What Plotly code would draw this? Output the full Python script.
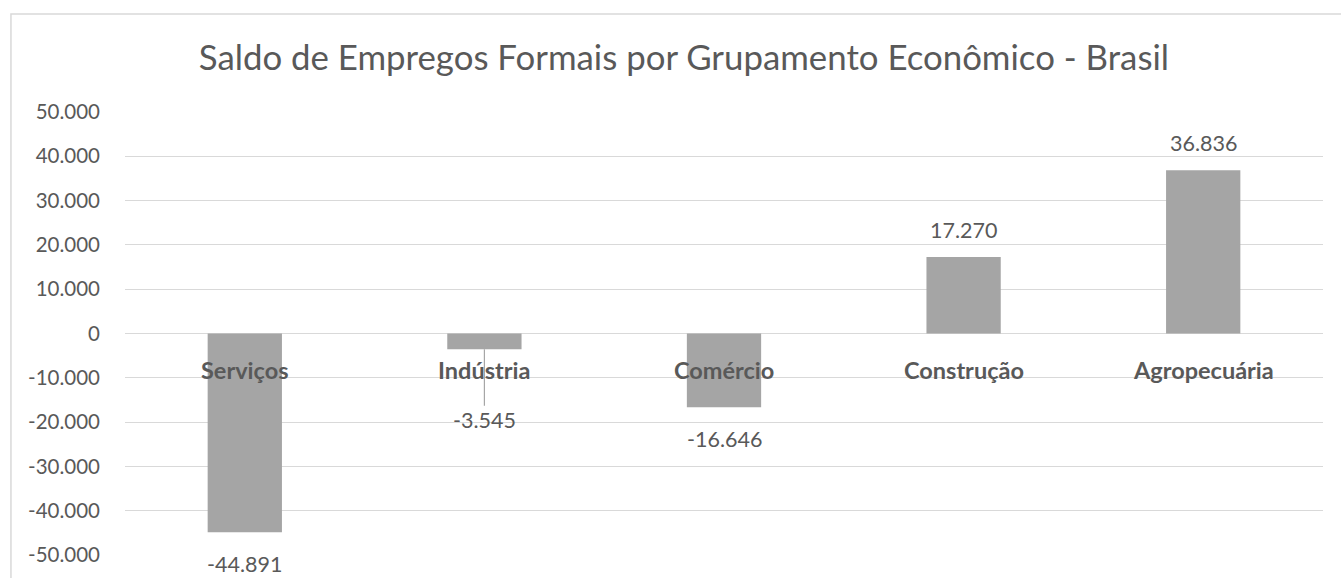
import plotly.graph_objects as go

categories = ["Serviços", "Indústria", "Comércio", "Construção", "Agropecuária"]
values = [-44891, -3545, -16646, 17270, 36836]
y_ticks = [50000, 40000, 30000, 20000, 10000, 0, -10000, -20000, -30000, -40000, -50000]

TITLE = "Saldo de Empregos Formais por Grupamento Econômico - Brasil"
FONT = "Lato, 'Open Sans', sans-serif"
TXT = "#595959"
GRID = "#D9D9D9"
BAR = "#A5A5A5"


def fmt(v):
    s = f"{abs(v):,}".replace(",", ".")
    return ("-" if v < 0 else "") + s


fig = go.Figure()
fig.add_trace(go.Bar(
    x=categories, y=values, marker=dict(color=BAR, line=dict(width=0)),
    width=0.31, hoverinfo="x+y",
))

annotations = []
for c, v in zip(categories, values):
    annotations.append(dict(
        x=c, y=0, xref="x", yref="y", text=f"<b>{c}</b>", showarrow=False,
        yshift=-36, font=dict(family=FONT, size=23.5, color=TXT),
    ))
    if c == "Indústria":
        annotations.append(dict(
            x=c, y=v, xref="x", yref="y", text=fmt(v), showarrow=True,
            arrowhead=0, arrowwidth=1.2, arrowcolor="#A6A6A6", ax=0, ay=71,
            standoff=0, font=dict(family=FONT, size=21.5, color=TXT),
        ))
    else:
        annotations.append(dict(
            x=c, y=v, xref="x", yref="y", text=fmt(v), showarrow=False,
            yshift=(27 if v > 0 else -32), font=dict(family=FONT, size=21.5, color=TXT),
        ))

fig.update_layout(
    width=1341, height=578,
    margin=dict(l=125, r=18, t=112, b=18),
    paper_bgcolor="white", plot_bgcolor="white",
    title=dict(text=TITLE, x=0.51, xanchor="center", y=0.9, yanchor="middle",
               font=dict(family=FONT, size=34.8, color=TXT)),
    showlegend=False,
    bargap=0.69,
    annotations=annotations,
    xaxis=dict(showticklabels=False, showgrid=False, zeroline=False, showline=False, ticks=""),
    yaxis=dict(range=[-50000, 50000], tickvals=y_ticks, ticktext=[fmt(t) for t in y_ticks],
               showgrid=True, gridcolor=GRID, gridwidth=1.2, zeroline=True, zerolinecolor=GRID,
               zerolinewidth=1.2, showline=False, ticks="", ticklabelstandoff=24,
               tickfont=dict(family=FONT, size=20.5, color=TXT)),
    shapes=[dict(type="rect", xref="paper", yref="paper", x0=-0.0952, x1=1.05, y0=-0.2, y1=1.221,
                 line=dict(color=GRID, width=1.5), fillcolor="rgba(0,0,0,0)", layer="below")],
)

fig.write_html("out.html", config={"displayModeBar": False},
               post_script="document.body.style.margin='0';")
